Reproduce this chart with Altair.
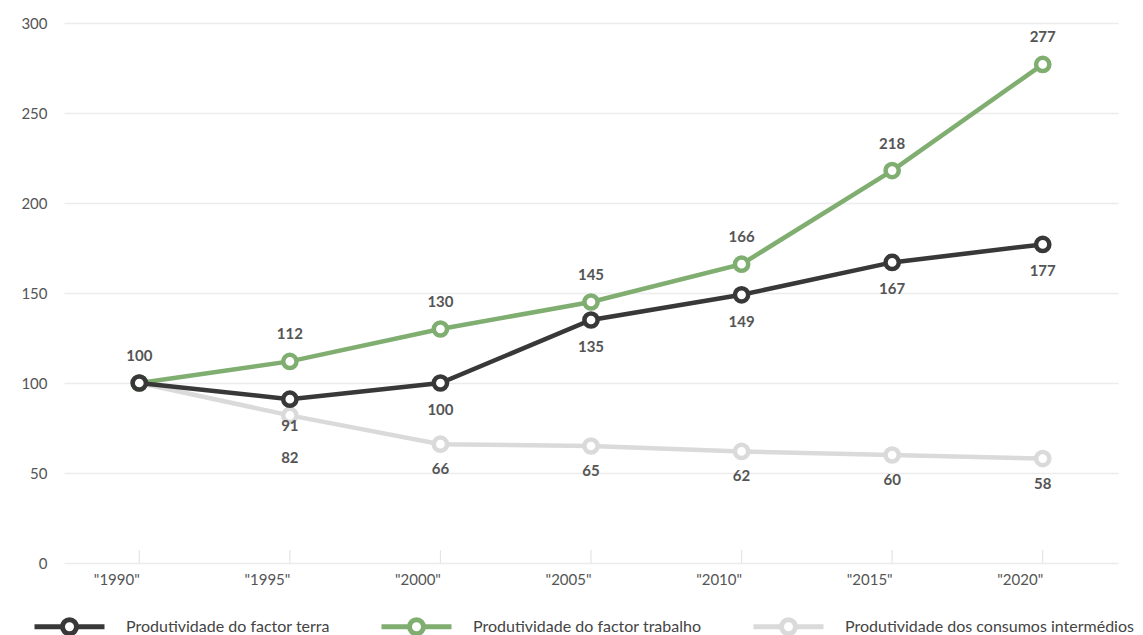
import altair as alt
import pandas as pd

years = ['"1990"', '"1995"', '"2000"', '"2005"', '"2010"', '"2015"', '"2020"']
terra = [100, 91, 100, 135, 149, 167, 177]
trabalho = [100, 112, 130, 145, 166, 218, 277]
consumos = [100, 82, 66, 65, 62, 60, 58]
series = ["Produtividade do factor terra", "Produtividade do factor trabalho",
          "Produtividade dos consumos intermédios"]
colors = ["#383838", "#7fae70", "#dadada"]

rows = []
for name, vals in zip(series, [terra, trabalho, consumos]):
    for i, (y, v) in enumerate(zip(years, vals)):
        rows.append({"ano": y, "valor": v, "serie": name, "i": i})
df = pd.DataFrame(rows)

FONT = "Lato"
W, H = 1054, 540

legend_path = ("M-1,0 L-0.24,0 M0.24,0 L1,0 "
               "M0.2,0 A0.2,0.2 0 1,1 -0.2,0 A0.2,0.2 0 1,1 0.2,0")

color = alt.Color("serie:N",
                  scale=alt.Scale(domain=series, range=colors),
                  sort=series,
                  legend=alt.Legend(title=None, orient="none", direction="horizontal",
                                    legendX=-32, legendY=566, columns=3,
                                    symbolType=legend_path, symbolSize=4900,
                                    symbolStrokeWidth=5, symbolFillColor="white",
                                    labelFont=FONT, labelFontSize=16, labelColor="#444",
                                    labelOffset=19, columnPadding=41, labelLimit=400))

xscale = alt.Scale(type="point", padding=0.5)
x = alt.X("ano:O", sort=years, scale=xscale,
          axis=alt.Axis(title=None, labelAngle=0, labelFont=FONT, labelFontSize=15,
                        labelColor="#555", labelPadding=16, ticks=False, domain=False,
                        grid=False))
x_plain = alt.X("ano:O", sort=years, scale=xscale)
y = alt.Y("valor:Q", scale=alt.Scale(domain=[0, 300]),
          axis=alt.Axis(title=None, values=[0, 50, 100, 150, 200, 250, 300],
                        labelFont=FONT, labelFontSize=15, labelColor="#555",
                        labelPadding=17, ticks=False, domain=False,
                        gridColor="#ececec", gridWidth=1.5))

base = alt.Chart(df)

tick_df = pd.DataFrame({"ano": years})
ticks = alt.Chart(tick_df).mark_rule(color="#e4e4e4", strokeWidth=1.2).encode(
    x=x_plain, y=alt.value(H - 13), y2=alt.value(H))

stroke_enc = alt.Stroke("serie:N", scale=alt.Scale(domain=series, range=colors), legend=None)

layers = [ticks]
for name in ["Produtividade dos consumos intermédios",
             "Produtividade do factor trabalho",
             "Produtividade do factor terra"]:
    sub = base.transform_filter(alt.datum.serie == name)
    layers.append(sub.mark_line(strokeWidth=4.5).encode(x=x, y=y, color=color))
    layers.append(sub.mark_point(shape="circle", size=175, filled=False, fill="white",
                                 strokeWidth=4.5, opacity=1).encode(
        x=x_plain, y="valor:Q", stroke=stroke_enc))

lab = dict(font=FONT, fontSize=15, fontWeight="bold", color="#555")
labels_green = base.transform_filter(alt.datum.serie == series[1]).mark_text(dy=-27, **lab).encode(
    x=x_plain, y="valor:Q", text="valor:Q")
labels_black = base.transform_filter((alt.datum.serie == series[0]) & (alt.datum.i > 0)).mark_text(dy=27, **lab).encode(
    x=x_plain, y="valor:Q", text="valor:Q")
labels_gray = base.transform_filter((alt.datum.serie == series[2]) & (alt.datum.i > 1)).mark_text(dy=25, **lab).encode(
    x=x_plain, y="valor:Q", text="valor:Q")
labels_gray2 = base.transform_filter((alt.datum.serie == series[2]) & (alt.datum.i == 1)).mark_text(dy=43, **lab).encode(
    x=x_plain, y="valor:Q", text="valor:Q")

chart = alt.layer(*layers, labels_green, labels_black, labels_gray, labels_gray2).properties(
    width=W, height=H,
    autosize=alt.AutoSizeParams(type="none"),
    padding={"left": 64, "top": 23, "right": 25, "bottom": 72},
    background="white",
).configure_view(strokeWidth=0, stroke="transparent")

chart.save("out.html", embed_options={"renderer": "svg", "actions": False})
